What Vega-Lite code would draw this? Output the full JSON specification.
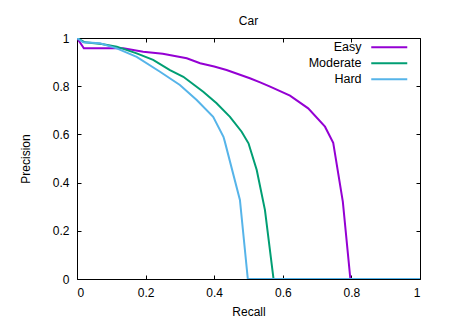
{
  "$schema": "https://vega.github.io/schema/vega-lite/v6.json",
  "width": 343,
  "height": 241,
  "autosize": {"type": "none"},
  "padding": {"left": 77, "top": 38, "right": 37, "bottom": 41},
  "background": "white",
  "title": {"text": "Car", "fontSize": 12, "font": "Liberation Sans", "fontWeight": "normal", "color": "#000", "offset": 4, "anchor": "middle"},
  "config": {
    "view": {"stroke": "#000", "strokeWidth": 1},
    "font": "Liberation Sans",
    "axis": {"domain": false, "grid": false, "tickColor": "#000", "tickSize": -4, "labelFontSize": 12, "labelColor": "#000", "titleFontSize": 12, "titleFontWeight": "normal", "titleColor": "#000", "labelFont": "Liberation Sans", "titleFont": "Liberation Sans", "format": "~g"}
  },
  "data": {"values": [
    {"s": "Easy", "r": 0, "p": 1},
    {"s": "Easy", "r": 0.02, "p": 0.957},
    {"s": "Easy", "r": 0.135, "p": 0.957},
    {"s": "Easy", "r": 0.193, "p": 0.943},
    {"s": "Easy", "r": 0.25, "p": 0.935},
    {"s": "Easy", "r": 0.32, "p": 0.916},
    {"s": "Easy", "r": 0.359, "p": 0.895},
    {"s": "Easy", "r": 0.4, "p": 0.882},
    {"s": "Easy", "r": 0.436, "p": 0.867},
    {"s": "Easy", "r": 0.504, "p": 0.833},
    {"s": "Easy", "r": 0.534, "p": 0.816},
    {"s": "Easy", "r": 0.563, "p": 0.798},
    {"s": "Easy", "r": 0.621, "p": 0.761},
    {"s": "Easy", "r": 0.674, "p": 0.708},
    {"s": "Easy", "r": 0.723, "p": 0.632},
    {"s": "Easy", "r": 0.747, "p": 0.565},
    {"s": "Easy", "r": 0.775, "p": 0.321},
    {"s": "Easy", "r": 0.797, "p": 0},
    {"s": "Easy", "r": 1, "p": 0},
    {"s": "Moderate", "r": 0, "p": 1},
    {"s": "Moderate", "r": 0.023, "p": 0.982},
    {"s": "Moderate", "r": 0.072, "p": 0.975},
    {"s": "Moderate", "r": 0.116, "p": 0.964},
    {"s": "Moderate", "r": 0.174, "p": 0.936},
    {"s": "Moderate", "r": 0.222, "p": 0.909},
    {"s": "Moderate", "r": 0.271, "p": 0.867},
    {"s": "Moderate", "r": 0.31, "p": 0.839},
    {"s": "Moderate", "r": 0.368, "p": 0.777},
    {"s": "Moderate", "r": 0.407, "p": 0.729},
    {"s": "Moderate", "r": 0.446, "p": 0.673},
    {"s": "Moderate", "r": 0.48, "p": 0.611},
    {"s": "Moderate", "r": 0.5, "p": 0.563},
    {"s": "Moderate", "r": 0.524, "p": 0.452},
    {"s": "Moderate", "r": 0.548, "p": 0.286},
    {"s": "Moderate", "r": 0.573, "p": 0},
    {"s": "Moderate", "r": 1, "p": 0},
    {"s": "Hard", "r": 0, "p": 1},
    {"s": "Hard", "r": 0.018, "p": 0.982},
    {"s": "Hard", "r": 0.067, "p": 0.978},
    {"s": "Hard", "r": 0.116, "p": 0.957},
    {"s": "Hard", "r": 0.174, "p": 0.922},
    {"s": "Hard", "r": 0.242, "p": 0.86},
    {"s": "Hard", "r": 0.3, "p": 0.805},
    {"s": "Hard", "r": 0.349, "p": 0.743},
    {"s": "Hard", "r": 0.397, "p": 0.673},
    {"s": "Hard", "r": 0.427, "p": 0.59},
    {"s": "Hard", "r": 0.431, "p": 0.57},
    {"s": "Hard", "r": 0.475, "p": 0.328},
    {"s": "Hard", "r": 0.498, "p": 0},
    {"s": "Hard", "r": 1, "p": 0}
  ]},
  "layer": [
    {
      "mark": {"type": "line", "strokeWidth": 2, "clip": true},
      "encoding": {
        "x": {"field": "r", "type": "quantitative", "scale": {"domain": [0, 1], "nice": false, "zero": false},
              "axis": {"title": "Recall", "values": [0, 0.2, 0.4, 0.6, 0.8, 1], "labelPadding": 12, "titlePadding": 8}},
        "y": {"field": "p", "type": "quantitative", "scale": {"domain": [0, 1], "nice": false, "zero": false},
              "axis": {"title": "Precision", "values": [0, 0.2, 0.4, 0.6, 0.8, 1], "labelPadding": 12, "titlePadding": 20}},
        "color": {"field": "s", "type": "nominal",
                  "scale": {"domain": ["Easy", "Moderate", "Hard"], "range": ["#9400d3", "#009e73", "#56b4e9"]},
                  "legend": {"title": null, "orient": "none", "legendX": 306, "legendY": 3, "symbolType": "M-6,0H6", "symbolSize": 36, "symbolStrokeWidth": 2, "labelAlign": "right", "labelOffset": -34, "labelFontSize": 12.5, "labelColor": "#000", "rowPadding": 3, "padding": 0}}
      }
    },
    {
      "mark": {"type": "point", "opacity": 0},
      "encoding": {
        "x": {"field": "r", "type": "quantitative", "axis": {"orient": "top", "values": [0, 0.2, 0.4, 0.6, 0.8, 1], "labels": false, "title": null}},
        "y": {"field": "p", "type": "quantitative", "axis": {"orient": "right", "values": [0, 0.2, 0.4, 0.6, 0.8, 1], "labels": false, "title": null}}
      }
    }
  ],
  "resolve": {"axis": {"x": "independent", "y": "independent"}}
}
